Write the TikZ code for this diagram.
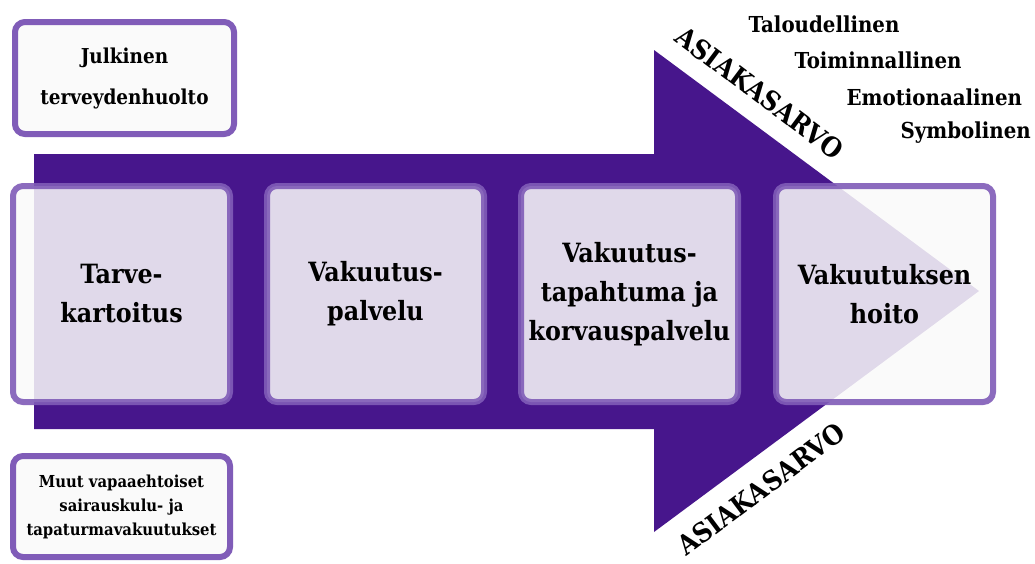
\documentclass[tikz,border=0pt]{standalone}
\usepackage{fontspec}
\setmainfont{DejaVu Serif Condensed}
\usepackage{xcolor}
\usepackage{tikz}
\usetikzlibrary{positioning,calc}
\definecolor{arrowpurple}{RGB}{71,22,140}
\definecolor{boxline}{RGB}{128,92,184}
\definecolor{boxfill}{RGB}{250,250,250}

\begin{document}
\begin{tikzpicture}[x = 1pt, y = -1pt,
  stage/.style = {draw=boxline, line width=6pt, rounded corners=10pt,
    fill=boxfill, fill opacity=.86, draw opacity=.9, text opacity=1,
    align=center, inner sep=0pt, minimum width=217pt, minimum height=216pt,
    font=\bfseries\fontsize{26.5}{39}\selectfont},
  side/.style = {draw=boxline, line width=6pt, rounded corners=10pt,
    fill=boxfill, align=center, inner sep=0pt, minimum width=219pt},
  value/.style = {font=\bfseries\fontsize{22}{30}\selectfont, anchor=west},
  arvo/.style = {font=\bfseries\fontsize{27}{30}\selectfont, inner sep=0pt}]
\clip (0,0) rectangle (1035,563);
\fill[white] (0,0) rectangle (1035,563);

% big arrow
\fill[arrowpurple] (34,154) -- (654,154) -- (654,50) -- (979,291)
  -- (654,532) -- (654,429) -- (34,429) -- cycle;

% process steps
\node[stage] (tarve) at (121.5,294) {Tarve-\\kartoitus};
\node[stage] (palvelu) at (375.5,294) {Vakuutus-\\palvelu};
\node[stage] (korvaus) at (629.5,294) {Vakuutus-\\tapahtuma ja\\korvauspalvelu};
\node[stage] (hoito) at (884.5,294) {Vakuutuksen\\hoito};

% side boxes
\node[side, minimum height=112pt, font=\bfseries\fontsize{20.5}{41}\selectfont]
  (julkinen) at (124.5,78) {Julkinen\\terveydenhuolto};
\node[side, minimum height=101pt, minimum width=217pt,
  font=\bfseries\fontsize{16.5}{24}\selectfont]
  (muut) at (121.5,506.5) {Muut vapaaehtoiset\\sairauskulu- ja\\tapaturmavakuutukset};

% customer value
\node[arvo, rotate=-36.8] (arvoyla) at (760,93) {ASIAKASARVO};
\node[arvo, rotate=36.8] (arvoala) at (761,489) {ASIAKASARVO};
\node[value] (talous) at (745,24) {Taloudellinen};
\node[value] (toiminta) at (791,60) {Toiminnallinen};
\node[value] (tunne) at (843,97) {Emotionaalinen};
\node[value] (symboli) at (897,133) {Symbolinen};

\end{tikzpicture}
\end{document}
